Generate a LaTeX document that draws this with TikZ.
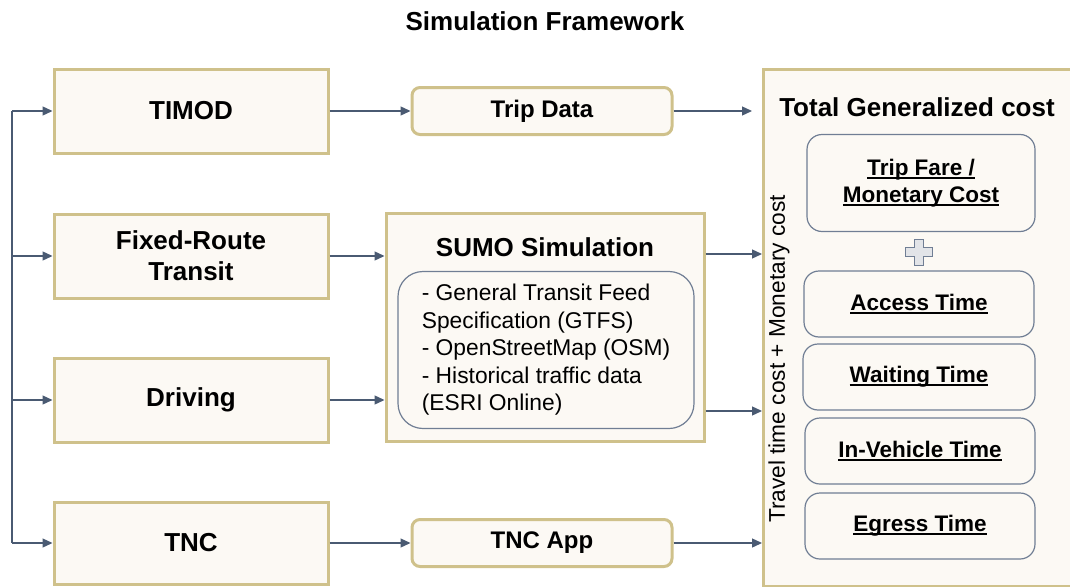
\documentclass[tikz,border=0pt]{standalone}
\usepackage{fontspec}
\setmainfont{Liberation Sans}
\usetikzlibrary{arrows.meta}
\definecolor{boxfill}{RGB}{252,249,244}
\definecolor{gold}{RGB}{207,193,139}
\definecolor{slate}{RGB}{112,126,148}
\definecolor{arrowc}{RGB}{74,90,114}
\definecolor{plusfill}{RGB}{226,228,232}
\newcommand{\ulbox}[1]{\setbox0\hbox{#1}\rlap{\rule[-3.5pt]{\wd0}{1.8pt}}\box0}

\begin{document}
\begin{tikzpicture}[x=1pt,y=-1pt,
  mode/.style={draw=gold, line width=3pt, fill=boxfill, minimum width=274pt, minimum height=84pt,
    inner sep=0pt, align=center, font=\fontsize{26}{31}\selectfont\bfseries},
  data/.style={draw=gold, line width=3pt, fill=boxfill, rounded corners=8pt, minimum width=260pt,
    minimum height=47pt, inner sep=0pt, font=\fontsize{24}{28}\selectfont\bfseries},
  part/.style={draw=slate, line width=1.2pt, fill=boxfill, rounded corners=15pt, minimum width=230pt,
    minimum height=66pt, inner sep=0pt, align=center, font=\fontsize{22.5}{25.5}\selectfont\bfseries},
  arr/.style={draw=arrowc, line width=1.3pt, -{Triangle[length=10pt,width=9pt]}},
  wire/.style={draw=arrowc, line width=1.3pt}]
\useasboundingbox (0,0) rectangle (1070,586);

\node[font=\fontsize{26}{30}\selectfont\bfseries] (title) at (545,21) {Simulation Framework};

% modes on the left
\node[mode] (timod) at (191,111) {TIMOD};
\node[mode] (frt) at (191,256) {Fixed-Route\\Transit};
\node[mode] (drv) at (191,400) {Driving};
\node[mode, minimum height=82pt] (tnc) at (191,543) {TNC};

% middle column
\node[data] (trip) at (542,111) {Trip Data};
\node[data] (tncapp) at (542,543) {TNC App};
\node[draw=gold, line width=3pt, fill=boxfill, minimum width=318pt, minimum height=228pt] (sumo) at (545,327) {};
\node[font=\fontsize{26}{30}\selectfont\bfseries] (sumotitle) at (545,247) {SUMO Simulation};
\node[draw=slate, line width=1.2pt, rounded corners=25pt, minimum width=296pt, minimum height=157pt,
  inner sep=0pt, align=left, font=\fontsize{22.8}{27.5}\selectfont] (sumoin) at (546,350)
  {- General Transit Feed\\Specification (GTFS)\\- OpenStreetMap (OSM)\\- Historical traffic data\\(ESRI Online)};

% generalized cost
\node[draw=gold, line width=3pt, fill=boxfill, minimum width=316pt, minimum height=517pt, anchor=north west] (tgc) at (762,68) {};
\node[font=\fontsize{26}{30}\selectfont\bfseries] (tgctitle) at (917,107) {Total Generalized cost};
\node[rotate=90, font=\fontsize{22.7}{26}\selectfont] (costlbl) at (779,359) {Travel time cost + Monetary cost};
\node[part, minimum height=97pt, minimum width=228pt] (fare) at (921,183) {\ulbox{Trip Fare /}\\[1pt]\ulbox{Monetary Cost}};
\node[part] (access) at (919,304) {\ulbox{Access Time}};
\node[part, minimum width=232pt] (waiting) at (919,377) {\ulbox{Waiting Time}};
\node[part] (inveh) at (920,451) {\ulbox{In-Vehicle Time}};
\node[part] (egress) at (920,526) {\ulbox{Egress Time}};
\draw[fill=plusfill, draw=slate, line width=1pt] (919,252) +(-4.5,-13) -- +(4.5,-13) -- +(4.5,-4.5) -- +(13.5,-4.5)
  -- +(13.5,4.5) -- +(4.5,4.5) -- +(4.5,13) -- +(-4.5,13) -- +(-4.5,4.5) -- +(-13.5,4.5) -- +(-13.5,-4.5)
  -- +(-4.5,-4.5) -- cycle;

% connectors
\coordinate (bus) at (12,0);
\draw[wire] (bus |- timod.west) -- (bus |- tnc.west);
\foreach \m in {timod,frt,drv,tnc}
  \draw[arr] (bus |- \m.west) -- (\m.west);
\draw[arr] (timod) -- (trip);
\draw[arr] (frt.east) -- (sumo.west |- frt.east);
\draw[arr] (drv.east) -- (sumo.west |- drv.east);
\draw[arr] (tnc) -- (tncapp);
\draw[arr, shorten >=10pt] (trip) -- (tgc.west |- trip);
\draw[arr] (sumo.east |- 0,254) -- (tgc.west |- 0,254);
\draw[arr] (sumo.east |- 0,411) -- (tgc.west |- 0,411);
\draw[arr] (tncapp) -- (tgc.west |- tncapp);
\end{tikzpicture}
\end{document}
